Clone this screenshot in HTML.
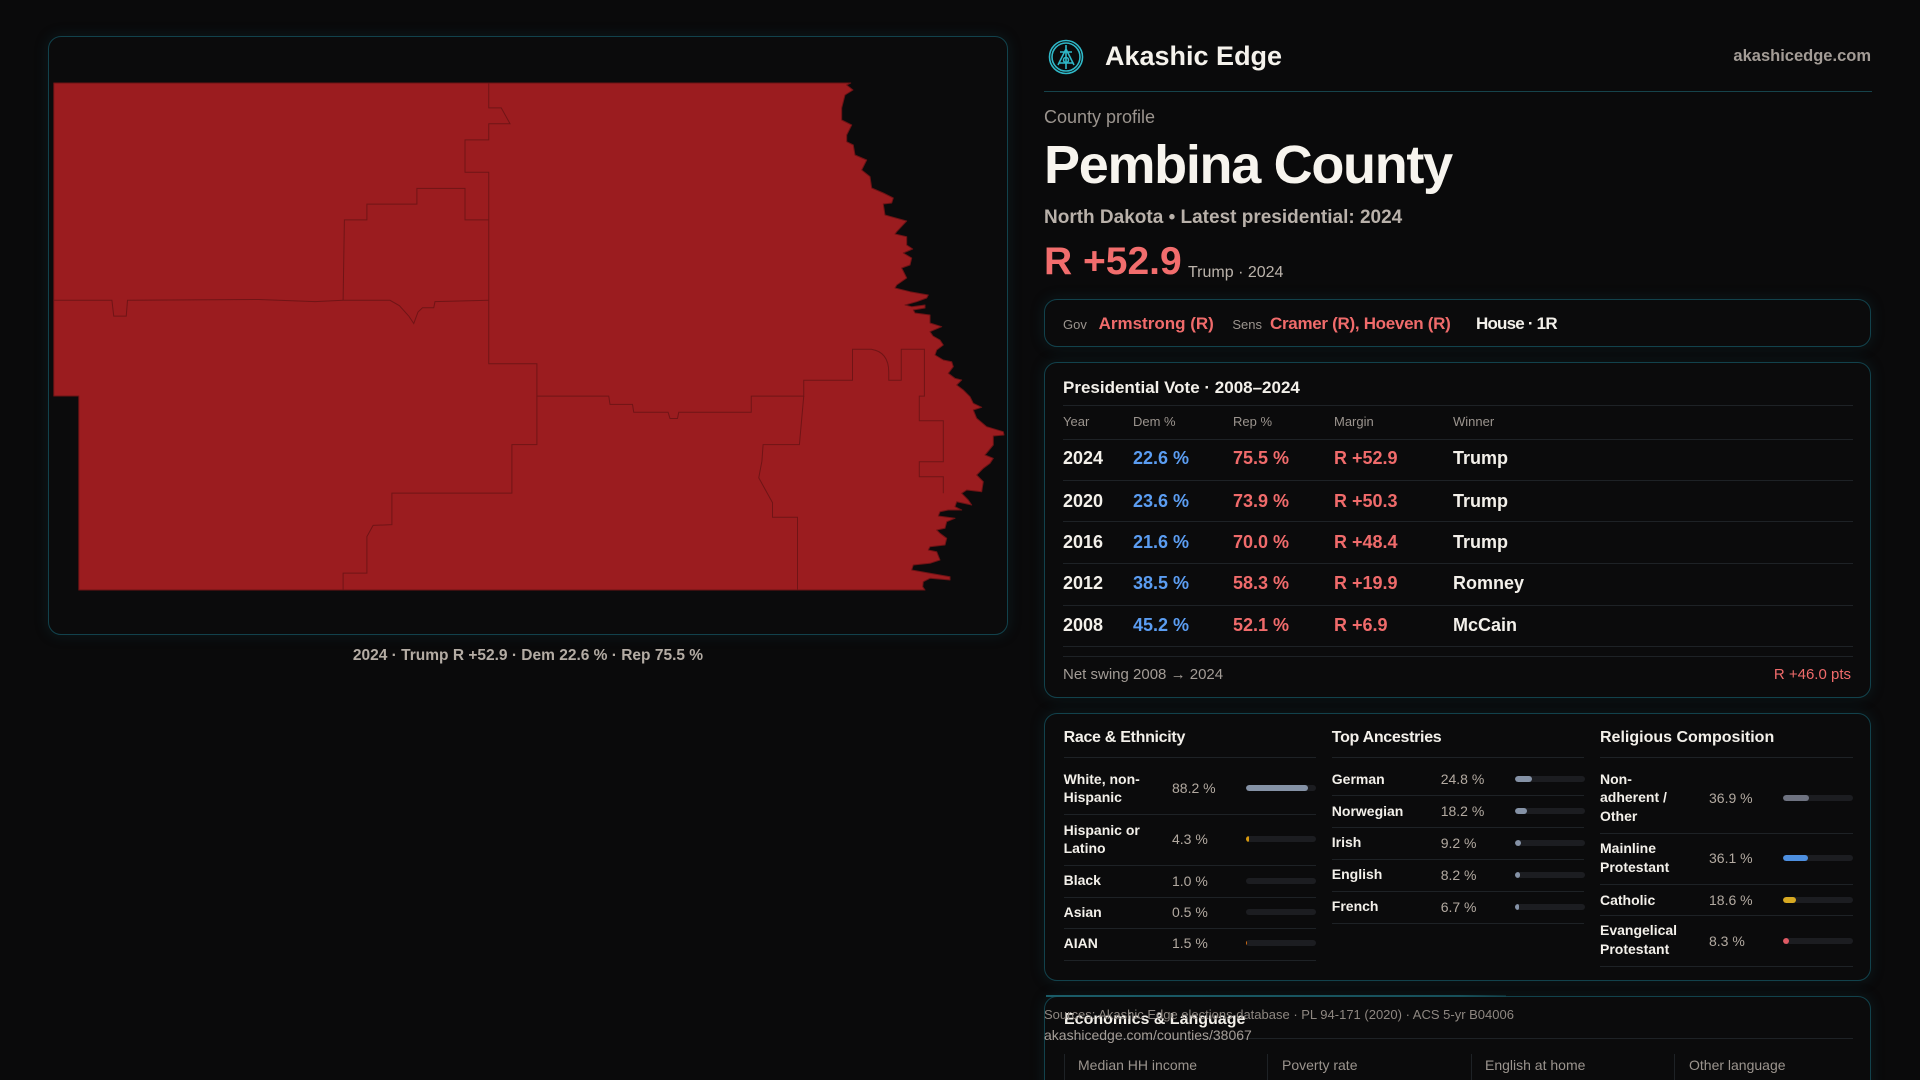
<!DOCTYPE html>
<html><head><meta charset="utf-8">
<style>
html,body{margin:0;padding:0;width:1920px;height:1080px;overflow:hidden;background:#0a0a0b;}
#root{position:relative;width:1920px;height:1080px;overflow:hidden;background:#0a0a0b;font-family:"Liberation Sans",sans-serif;color:#f3f0ea;}
.t{position:absolute;white-space:nowrap;line-height:1;}
.b{font-weight:bold;}
.box{position:absolute;border:1.5px solid #12424c;border-radius:13px;background:#0b0b0c;box-shadow:0 0 14px rgba(18,70,80,0.28);box-sizing:border-box;}
.hl{position:absolute;height:1px;background:#1e2226;}
.vl{position:absolute;width:1px;background:#1e2226;}
.bar{position:absolute;width:70px;height:6px;border-radius:3px;background:#1c1d21;overflow:hidden;}
.bar i{position:absolute;left:0;top:0;height:6px;border-radius:3px;display:block;}
.g{color:#9b948e;}
.v{color:#b3aaa1;}
.s{color:#f06b6b;}
.bl{color:#5b9df2;}
.lab{position:absolute;font-weight:bold;font-size:14px;line-height:18.7px;white-space:nowrap;color:#f3f0ea;}
</style></head><body><div id="root">

<!-- Map panel -->
<div class="box" style="left:48px;top:36px;width:960px;height:599px;"></div>
<svg style="position:absolute;left:48px;top:36px;" width="960" height="599" viewBox="48 36 960 599">
<polygon fill="#9b1c1f" stroke="#6b1315" stroke-width="1" stroke-linejoin="round" points="53.75,83 850.7,83 846.7,85 853,90 845,95 841.7,108 841.7,120 851.7,125 846.7,135 846.7,141.7 853.3,145 855,155 866.7,160 861.7,170 870,176.7 871.7,188 883.3,193 893.3,198 891.7,203 883.3,204 885,215 906.7,221 896.7,231.7 895,234 906.7,236.7 906.7,245 912.7,249 903.3,253 911.7,258 910,265 901.7,268 906.7,278 896.7,285 895,288 910,291.7 928.3,295 926.7,298 916.7,301.7 905,305 911.7,306.7 925,305 925,308 913.3,310 915,313 930,315 930,323 941.7,326.7 930,331.7 933,336 940,340 943.3,345 936.7,350 935,355 943.3,360 951.7,361.7 953.3,366.7 948.3,373.3 955,378.3 961.7,380 956.7,385 963.3,390 970,396.7 973.3,403.3 981.7,407.3 973.3,410 976.7,418.3 986.7,426.7 1003.3,431.7 1004,435 993.3,436 993.3,445 985,455 993.3,458.3 990,463.3 983.3,468.3 976.7,475 983.3,481.7 981.7,491.7 966.7,490 961.7,493.3 968.3,500 971.7,505 956.7,501.7 955,506.7 961.7,510 948.3,510 940,511.7 938.3,516 955,518.3 946.7,521.7 945,528.3 936.7,530 940,533.3 946.7,538.3 945,545 930,546.7 928.3,550 936.7,551.7 940,560 930,563.3 913.3,565 911.7,570 930,573.3 950,576.7 950,580 930,578.3 923.3,581.7 922.7,586.7 925,590 78.75,590 78.75,396 53.75,396"/>
<g fill="none" stroke="#701416" stroke-width="1">
<polyline points="488.75,83 488.75,107.9 501.25,107.9 510,123.7 488.75,123.7 488.75,139.9 465,139.9 465,172.2 488.75,172.2 488.75,363.8 536.9,363.8 536.9,444.6 511.9,444.6 511.9,493.1 391.9,493.1 391.9,524.6 373.1,525.4 366.9,536.6 366.9,573.1 343.1,573.1 343.1,589.7"/>
<polyline points="488.75,219.9 465,219.9 465,188.4 416.9,188.4 416.9,204.1 366.9,204.1 366.9,219.9 344.4,219.9 343.1,300.3"/>
<polyline points="53.75,300.3 111.9,300.3 113.75,316.1 126.25,316.1 127.5,300.3 258.75,299.5 315,301.6 343.1,300.3 390,300.3 399.4,305.7 408.75,316 413.75,323.5 418,312 422.5,307.8 433.75,307.8 435,301.6 488.75,300.3"/>
<path d="M536.9,396.1 L608.75,396.1 L610,404.4 L632.5,404.4 L633.75,412.3 L668.1,412.3 L670,418.5 L677.5,418.5 L678.75,412.3 L751.25,412.3 L751.25,396.1 L803.75,396.1 L803.75,380.3 L852.5,380.3 L852.5,349.2 L871.25,349.2 Q888.75,352 888.75,372 L888.75,380.3 L901.25,380.3 L901.25,349.2 L924.4,349.2 L924.4,396.1 L919.3,396.1 L919.3,420.7 L943.3,420.7 L943.3,461.7 L919.3,461.7 L919.3,476.7 L943.3,476.7 L943.3,493.3"/>
<polyline points="803.75,396.1 799.4,444.6 763.1,444.6 761.9,461.2 758.75,477.8 772.5,502.6 772.5,517.2 797.5,517.2 797.5,589.7"/>
</g>
</svg>
<div class="t b" style="left:48px;width:960px;text-align:center;top:648px;font-size:15.5px;color:#b4aca4;">2024 · Trump R +52.9 · Dem 22.6 % · Rep 75.5 %</div>

<!-- Header -->
<svg style="position:absolute;left:1047px;top:38px;" width="38" height="38" viewBox="0 0 38 38">
<g fill="none" stroke="#2fb8c8" stroke-width="1.6">
<circle cx="19" cy="19" r="16.5"/>
<circle cx="19" cy="19" r="14"/>
<path d="M19 7 L19 31 M19 11 L11 27 M19 11 L27 27 M13 14 L25 14 M12 25 L26 25"/>
<circle cx="19" cy="22" r="2.5"/>
</g>
</svg>
<div class="t b" style="left:1105px;top:42.7px;font-size:27px;color:#f5f2ec;">Akashic Edge</div>
<div class="t b" style="right:49px;top:47.9px;font-size:16.5px;color:#a39c96;">akashicedge.com</div>
<div style="position:absolute;left:1044px;top:91px;width:828px;height:1px;background:#16434b;"></div>
<div class="t g" style="left:1044px;top:108px;font-size:18px;">County profile</div>
<div class="t b" style="left:1044px;top:137.7px;font-size:54px;letter-spacing:-1.3px;color:#f7f4ee;">Pembina County</div>
<div class="t b" style="left:1044px;top:207.7px;font-size:19px;color:#b9b1aa;">North Dakota • Latest presidential: 2024</div>
<div class="t b s" style="left:1044px;top:241.5px;font-size:39px;color:#f26d6d;">R +52.9</div>
<div class="t" style="left:1188px;top:265.3px;font-size:16px;color:#bbb3ab;">Trump · 2024</div>

<!-- Officials -->
<div class="box" style="left:1044px;top:299px;width:827px;height:48px;"></div>
<div class="t g" style="left:1063px;top:318.2px;font-size:13px;">Gov</div>
<div class="t b s" style="left:1098.6px;top:314.8px;font-size:17px;">Armstrong (R)</div>
<div class="t g" style="left:1232.4px;top:318.2px;font-size:13px;">Sens</div>
<div class="t b s" style="left:1270px;top:314.8px;font-size:17px;letter-spacing:-0.3px;">Cramer (R), Hoeven (R)</div>
<div class="t b" style="left:1476px;top:314.8px;font-size:17px;letter-spacing:-0.8px;">House · 1R</div>

<!-- Presidential -->
<div class="box" style="left:1044px;top:362px;width:827px;height:336px;"></div>
<div class="t b" style="left:1063px;top:379.4px;font-size:17px;">Presidential Vote · 2008–2024</div>
<div class="hl" style="left:1063px;top:405px;width:790px;"></div>
<div class="t g" style="left:1063px;top:414.5px;font-size:13px;">Year</div>
<div class="t g" style="left:1133px;top:414.5px;font-size:13px;">Dem %</div>
<div class="t g" style="left:1233px;top:414.5px;font-size:13px;">Rep %</div>
<div class="t g" style="left:1334px;top:414.5px;font-size:13px;">Margin</div>
<div class="t g" style="left:1453px;top:414.5px;font-size:13px;">Winner</div>
<div class="hl" style="left:1063px;top:439px;width:790px;"></div>

<div class="t b" style="left:1063px;top:449.3px;font-size:18px;">2024</div>
<div class="t b bl" style="left:1133px;top:449.3px;font-size:18px;">22.6 %</div>
<div class="t b s" style="left:1233px;top:449.3px;font-size:18px;">75.5 %</div>
<div class="t b s" style="left:1334px;top:449.3px;font-size:18px;">R +52.9</div>
<div class="t b" style="left:1453px;top:449.3px;font-size:18px;">Trump</div>
<div class="hl" style="left:1063px;top:480px;width:790px;"></div>

<div class="t b" style="left:1063px;top:491.7px;font-size:18px;">2020</div>
<div class="t b bl" style="left:1133px;top:491.7px;font-size:18px;">23.6 %</div>
<div class="t b s" style="left:1233px;top:491.7px;font-size:18px;">73.9 %</div>
<div class="t b s" style="left:1334px;top:491.7px;font-size:18px;">R +50.3</div>
<div class="t b" style="left:1453px;top:491.7px;font-size:18px;">Trump</div>
<div class="hl" style="left:1063px;top:521px;width:790px;"></div>

<div class="t b" style="left:1063px;top:532.7px;font-size:18px;">2016</div>
<div class="t b bl" style="left:1133px;top:532.7px;font-size:18px;">21.6 %</div>
<div class="t b s" style="left:1233px;top:532.7px;font-size:18px;">70.0 %</div>
<div class="t b s" style="left:1334px;top:532.7px;font-size:18px;">R +48.4</div>
<div class="t b" style="left:1453px;top:532.7px;font-size:18px;">Trump</div>
<div class="hl" style="left:1063px;top:563px;width:790px;"></div>

<div class="t b" style="left:1063px;top:574.3px;font-size:18px;">2012</div>
<div class="t b bl" style="left:1133px;top:574.3px;font-size:18px;">38.5 %</div>
<div class="t b s" style="left:1233px;top:574.3px;font-size:18px;">58.3 %</div>
<div class="t b s" style="left:1334px;top:574.3px;font-size:18px;">R +19.9</div>
<div class="t b" style="left:1453px;top:574.3px;font-size:18px;">Romney</div>
<div class="hl" style="left:1063px;top:605px;width:790px;"></div>

<div class="t b" style="left:1063px;top:616.3px;font-size:18px;">2008</div>
<div class="t b bl" style="left:1133px;top:616.3px;font-size:18px;">45.2 %</div>
<div class="t b s" style="left:1233px;top:616.3px;font-size:18px;">52.1 %</div>
<div class="t b s" style="left:1334px;top:616.3px;font-size:18px;">R +6.9</div>
<div class="t b" style="left:1453px;top:616.3px;font-size:18px;">McCain</div>
<div class="hl" style="left:1063px;top:646px;width:790px;"></div>
<div class="hl" style="left:1063px;top:656px;width:790px;"></div>
<div class="t" style="left:1063px;top:666.5px;font-size:15px;color:#a39c96;">Net swing 2008 → 2024</div>
<div class="t s" style="right:69px;top:666.5px;font-size:15px;">R +46.0 pts</div>

<!-- Demographics -->
<div class="box" style="left:1044px;top:713px;width:827px;height:268px;"></div>
<div class="t b" style="left:1063.6px;top:730.3px;font-size:16px;letter-spacing:-0.3px;">Race &amp; Ethnicity</div>
<div class="t b" style="left:1331.8px;top:730.3px;font-size:16px;letter-spacing:-0.3px;">Top Ancestries</div>
<div class="t b" style="left:1600px;top:730.3px;font-size:16px;">Religious Composition</div>
<div class="hl" style="left:1063.6px;top:757px;width:252px;"></div>
<div class="hl" style="left:1331.8px;top:757px;width:252.5px;"></div>
<div class="hl" style="left:1600px;top:757px;width:252.6px;"></div>

<!-- Race -->
<div class="lab" style="left:1063.6px;top:769.6px;">White, non-<br>Hispanic</div>
<div class="t v" style="left:1172px;top:781.3px;font-size:14px;">88.2 %</div>
<div class="bar" style="left:1246px;top:785.3px;"><i style="width:61.7px;background:#8592a6;"></i></div>
<div class="hl" style="left:1063.6px;top:814px;width:252px;"></div>

<div class="lab" style="left:1063.6px;top:820.6px;">Hispanic or<br>Latino</div>
<div class="t v" style="left:1172px;top:832.3px;font-size:14px;">4.3 %</div>
<div class="bar" style="left:1246px;top:836.3px;"><i style="width:3px;background:#d99a0e;"></i></div>
<div class="hl" style="left:1063.6px;top:865px;width:252px;"></div>

<div class="lab" style="left:1063.6px;top:871.3px;">Black</div>
<div class="t v" style="left:1172px;top:873.7px;font-size:14px;">1.0 %</div>
<div class="bar" style="left:1246px;top:877.7px;"></div>
<div class="hl" style="left:1063.6px;top:897px;width:252px;"></div>

<div class="lab" style="left:1063.6px;top:903px;">Asian</div>
<div class="t v" style="left:1172px;top:905.3px;font-size:14px;">0.5 %</div>
<div class="bar" style="left:1246px;top:909.3px;"></div>
<div class="hl" style="left:1063.6px;top:928px;width:252px;"></div>

<div class="lab" style="left:1063.6px;top:934px;">AIAN</div>
<div class="t v" style="left:1172px;top:936.3px;font-size:14px;">1.5 %</div>
<div class="bar" style="left:1246px;top:940.3px;"><i style="width:1.2px;background:#d06a12;border-radius:0;"></i></div>
<div class="hl" style="left:1063.6px;top:960px;width:252px;"></div>

<!-- Ancestries -->
<div class="lab" style="left:1331.8px;top:769.6px;">German</div>
<div class="t v" style="left:1440.7px;top:772px;font-size:14px;">24.8 %</div>
<div class="bar" style="left:1514.7px;top:776px;"><i style="width:17.4px;background:#8592a6;"></i></div>
<div class="hl" style="left:1331.8px;top:795px;width:252.5px;"></div>

<div class="lab" style="left:1331.8px;top:801.6px;">Norwegian</div>
<div class="t v" style="left:1440.7px;top:804px;font-size:14px;">18.2 %</div>
<div class="bar" style="left:1514.7px;top:808px;"><i style="width:12.7px;background:#8592a6;"></i></div>
<div class="hl" style="left:1331.8px;top:827px;width:252.5px;"></div>

<div class="lab" style="left:1331.8px;top:833.3px;">Irish</div>
<div class="t v" style="left:1440.7px;top:835.7px;font-size:14px;">9.2 %</div>
<div class="bar" style="left:1514.7px;top:839.7px;"><i style="width:6.4px;background:#8592a6;"></i></div>
<div class="hl" style="left:1331.8px;top:859px;width:252.5px;"></div>

<div class="lab" style="left:1331.8px;top:865.3px;">English</div>
<div class="t v" style="left:1440.7px;top:867.7px;font-size:14px;">8.2 %</div>
<div class="bar" style="left:1514.7px;top:871.7px;"><i style="width:5.7px;background:#8592a6;"></i></div>
<div class="hl" style="left:1331.8px;top:891px;width:252.5px;"></div>

<div class="lab" style="left:1331.8px;top:897.3px;">French</div>
<div class="t v" style="left:1440.7px;top:899.7px;font-size:14px;">6.7 %</div>
<div class="bar" style="left:1514.7px;top:903.7px;"><i style="width:4.7px;background:#8592a6;"></i></div>
<div class="hl" style="left:1331.8px;top:923px;width:252.5px;"></div>

<!-- Religion -->
<div class="lab" style="left:1600px;top:769.6px;line-height:18.8px;">Non-<br>adherent /<br>Other</div>
<div class="t v" style="left:1709px;top:790.7px;font-size:14px;">36.9 %</div>
<div class="bar" style="left:1783px;top:794.7px;"><i style="width:25.8px;background:#6e7280;"></i></div>
<div class="hl" style="left:1600px;top:833px;width:252.6px;"></div>

<div class="lab" style="left:1600px;top:838.8px;line-height:19px;">Mainline<br>Protestant</div>
<div class="t v" style="left:1709px;top:851.3px;font-size:14px;">36.1 %</div>
<div class="bar" style="left:1783px;top:855.3px;"><i style="width:25.3px;background:#4d8fe0;"></i></div>
<div class="hl" style="left:1600px;top:884px;width:252.6px;"></div>

<div class="lab" style="left:1600px;top:890.6px;">Catholic</div>
<div class="t v" style="left:1709px;top:893px;font-size:14px;">18.6 %</div>
<div class="bar" style="left:1783px;top:897px;"><i style="width:13px;background:#d7a922;"></i></div>
<div class="hl" style="left:1600px;top:915px;width:252.6px;"></div>

<div class="lab" style="left:1600px;top:921.3px;">Evangelical<br>Protestant</div>
<div class="t v" style="left:1709px;top:933.7px;font-size:14px;">8.3 %</div>
<div class="bar" style="left:1783px;top:937.7px;"><i style="width:5.8px;background:#e05a64;"></i></div>
<div class="hl" style="left:1600px;top:966px;width:252.6px;"></div>

<!-- Economics -->
<div class="box" style="left:1044px;top:996px;width:827px;height:110px;"></div>
<div style="position:absolute;left:1046px;top:995px;width:460px;height:2px;background:linear-gradient(90deg,#1a5c68,#17505a 90%,rgba(23,80,90,0.4));"></div>
<div class="t b" style="left:1064px;top:1012px;font-size:16px;">Economics &amp; Language</div>
<div class="hl" style="left:1063px;top:1038px;width:790px;"></div>
<div class="vl" style="left:1063.5px;top:1054px;height:30px;"></div>
<div class="vl" style="left:1267px;top:1054px;height:30px;"></div>
<div class="vl" style="left:1470.5px;top:1054px;height:30px;"></div>
<div class="vl" style="left:1674px;top:1054px;height:30px;"></div>
<div class="t g" style="left:1078px;top:1058px;font-size:14px;">Median HH income</div>
<div class="t g" style="left:1282px;top:1058px;font-size:14px;">Poverty rate</div>
<div class="t g" style="left:1485px;top:1058px;font-size:14px;">English at home</div>
<div class="t g" style="left:1689px;top:1058px;font-size:14px;">Other language</div>

<div class="t" style="left:1044px;top:1007.7px;font-size:13px;color:#8e8781;">Sources: Akashic Edge elections database · PL 94-171 (2020) · ACS 5-yr B04006</div>
<div class="t" style="left:1044px;top:1028px;font-size:14px;color:#a59e98;">akashicedge.com/counties/38067</div>

</div></body></html>
